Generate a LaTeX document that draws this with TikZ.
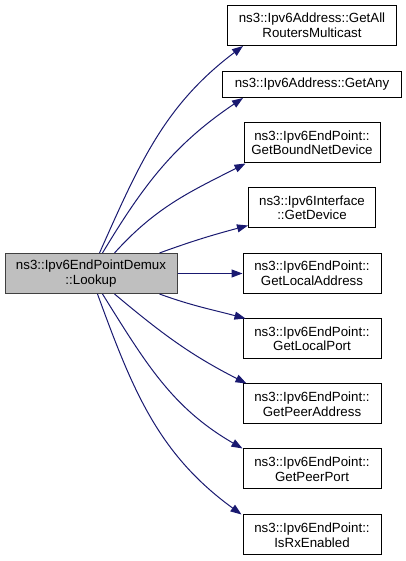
\documentclass[tikz,border=0pt]{standalone}
\usepackage{fontspec}
\setmainfont{Liberation Sans}
\usetikzlibrary{arrows.meta,calc}
\definecolor{edgeblue}{RGB}{25,25,112}
\definecolor{mainfill}{RGB}{191,191,191}
\definecolor{mainborder}{RGB}{64,64,64}
\tikzset{
  box/.style={draw=black, fill=white, line width=1pt, align=center, inner sep=0pt,
    minimum height=40pt, font=\fontsize{13.3}{14.5}\selectfont},
  mainbox/.style={box, fill=mainfill, draw=mainborder},
  edge/.style={draw=edgeblue, line width=1pt, -{Triangle[length=11pt,width=8pt]}}
}
\begin{document}
\begin{tikzpicture}[x=1pt,y=1pt]
\useasboundingbox (0,0) rectangle (405,561);
\node[mainbox, minimum width=172pt] (main) at (91,287.5) {ns3::Ipv6EndPointDemux\\::Lookup};
\node[box, minimum width=169pt] (n1) at (312,535.5) {ns3::Ipv6Address::GetAll\\RoutersMulticast};
\node[box, minimum width=179pt, minimum height=26pt] (n2) at (312,476.5) {ns3::Ipv6Address::GetAny};
\node[box, minimum width=136pt] (n3) at (312,418) {ns3::Ipv6EndPoint::\\GetBoundNetDevice};
\node[box, minimum width=127pt] (n4) at (312,353) {ns3::Ipv6Interface\\::GetDevice};
\node[box, minimum width=138pt] (n5) at (312,287.5) {ns3::Ipv6EndPoint::\\GetLocalAddress};
\node[box, minimum width=138pt] (n6) at (312,222) {ns3::Ipv6EndPoint::\\GetLocalPort};
\node[box, minimum width=138pt] (n7) at (312,157) {ns3::Ipv6EndPoint::\\GetPeerAddress};
\node[box, minimum width=138pt] (n8) at (312,92) {ns3::Ipv6EndPoint::\\GetPeerPort};
\node[box, minimum width=138pt] (n9) at (312,26) {ns3::Ipv6EndPoint::\\IsRxEnabled};

\draw[edge] ($(main.north west)+(95,0)$) to[out=66,in=217] ($(n1.south west)+(16,0)$);
\draw[edge] ($(main.north west)+(98,0)$) to[out=59,in=214] ($(n2.south west)+(21,0)$);
\draw[edge] ($(main.north west)+(110,0)$) to[out=48,in=207] ($(n3.south west)+(2,0)$);
\draw[edge] ($(main.north west)+(155,0)$) to[out=20,in=195] ($(n4.south west)+(0,3)$);
\draw[edge] (main.east) -- (n5.west);
\draw[edge] ($(main.south west)+(155,0)$) to[out=-20,in=165] ($(n6.north west)+(3,0)$);
\draw[edge] ($(main.south west)+(110,0)$) to[out=-40,in=153] ($(n7.north west)+(4,0)$);
\draw[edge] ($(main.south west)+(98,0)$) to[out=-58,in=150] ($(n8.north west)+(0,0)$);
\draw[edge] ($(main.south west)+(93,0)$) to[out=-70,in=144] ($(n9.north west)+(-1,0)$);
\end{tikzpicture}
\end{document}
